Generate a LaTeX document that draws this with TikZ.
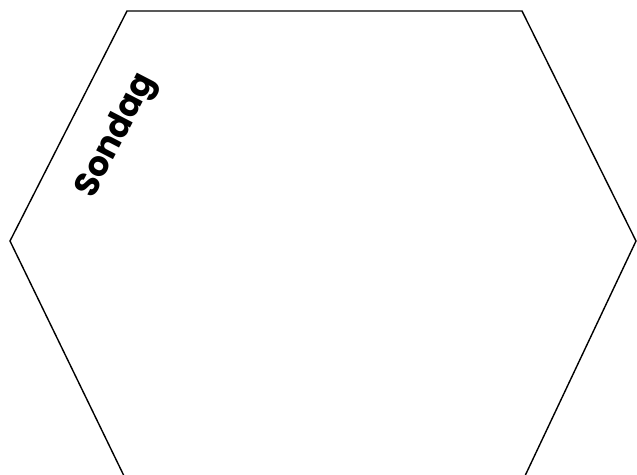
\documentclass[tikz,border=0pt]{standalone}
\usepackage{fontspec}
\newfontfamily\labelfont{Poppins}
\begin{document}
\begin{tikzpicture}[x=1pt,y=-1pt,
  hexline/.style={draw=black,line width=1.4pt,line join=miter},
  daylabel/.style={font=\labelfont\bfseries\fontsize{34}{38}\selectfont,rotate=62.6,inner sep=0pt}]
\useasboundingbox (0,0) rectangle (637,474);
\begin{scope}
\clip (0,0) rectangle (637,474);
\draw[hexline] (127,11) -- (522,11) -- (636,241) -- (524,478) -- (125,478) -- (10,241) -- cycle;
\end{scope}
\node[daylabel] (lbl) at (117,136) {Sondag};
\end{tikzpicture}
\end{document}
